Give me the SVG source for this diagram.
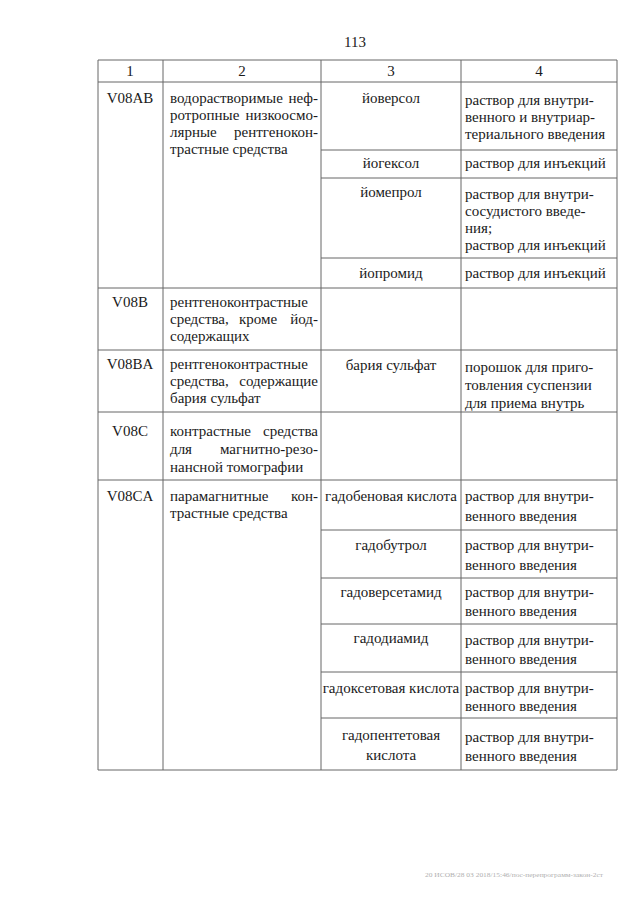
<svg xmlns="http://www.w3.org/2000/svg" width="640" height="905" viewBox="0 0 640 905">
<style>
text{font-family:"Liberation Serif","DejaVu Serif Condensed","DejaVu Serif",serif;font-size:15px;fill:#1a1a1a}
.c{text-anchor:middle}
.e{text-anchor:end}
.g line{stroke:#666;stroke-width:1}
.f{font-size:7px;fill:#b0b0b0}
</style>
<rect width="640" height="905" fill="#fff"/>
<text class="c" x="355" y="47">113</text>
<g id="grid" class="g">
<line x1="98" y1="60" x2="617" y2="60"/>
<line x1="98" y1="82" x2="617" y2="82"/>
<line x1="321" y1="150" x2="617" y2="150"/>
<line x1="321" y1="178" x2="617" y2="178"/>
<line x1="321" y1="258" x2="617" y2="258"/>
<line x1="98" y1="288" x2="617" y2="288"/>
<line x1="98" y1="350" x2="617" y2="350"/>
<line x1="98" y1="412" x2="617" y2="412"/>
<line x1="98" y1="480" x2="617" y2="480"/>
<line x1="321" y1="530" x2="617" y2="530"/>
<line x1="321" y1="578" x2="617" y2="578"/>
<line x1="321" y1="624" x2="617" y2="624"/>
<line x1="321" y1="672" x2="617" y2="672"/>
<line x1="321" y1="718" x2="617" y2="718"/>
<line x1="98" y1="770" x2="617" y2="770"/>
<line x1="98" y1="60" x2="98" y2="770"/>
<line x1="163" y1="60" x2="163" y2="770"/>
<line x1="321" y1="60" x2="321" y2="770"/>
<line x1="461" y1="60" x2="461" y2="770"/>
<line x1="617" y1="60" x2="617" y2="770"/>
</g>
<g id="header">
<text class="c" x="130" y="76">1</text>
<text class="c" x="242" y="76">2</text>
<text class="c" x="391" y="76">3</text>
<text class="c" x="539" y="76">4</text>
</g>
<g id="row-V08AB">
<text class="c" x="130" y="103">V08AB</text>
<text x="170" y="103">водорастворимые</text><text class="e" x="318" y="103">неф-</text>
<text x="170" y="120">ротропные</text><text class="e" x="318" y="120">низкоосмо-</text>
<text x="170" y="137">лярные</text><text class="e" x="318" y="137">рентгенокон-</text>
<text x="170" y="154">трастные средства</text>
<text class="c" x="391" y="103">йоверсол</text>
<text x="465" y="105">раствор для внутри-</text>
<text x="465" y="122">венного и внутриар-</text>
<text x="465" y="139">териального введения</text>
<text class="c" x="391" y="168">йогексол</text>
<text x="465" y="168">раствор для инъекций</text>
<text class="c" x="391" y="197">йомепрол</text>
<text x="465" y="199">раствор для внутри-</text>
<text x="465" y="216">сосудистого введе-</text>
<text x="465" y="233">ния;</text>
<text x="465" y="250">раствор для инъекций</text>
<text class="c" x="391" y="278">йопромид</text>
<text x="465" y="278">раствор для инъекций</text>
</g>
<g id="row-V08B">
<text class="c" x="130" y="307">V08B</text>
<text x="170" y="307">рентгеноконтрастные</text>
<text x="170" y="324">средства,</text><text class="c" x="258" y="324">кроме</text><text class="e" x="318" y="324">йод-</text>
<text x="170" y="341">содержащих</text>
</g>
<g id="row-V08BA">
<text class="c" x="130" y="369">V08BA</text>
<text x="170" y="369">рентгеноконтрастные</text>
<text x="170" y="386">средства,</text><text class="e" x="318" y="386">содержащие</text>
<text x="170" y="403">бария сульфат</text>
<text class="c" x="391" y="370">бария сульфат</text>
<text x="465" y="372">порошок для приго-</text>
<text x="465" y="390">товления суспензии</text>
<text x="465" y="408">для приема внутрь</text>
</g>
<g id="row-V08C">
<text class="c" x="130" y="436">V08C</text>
<text x="170" y="436">контрастные</text><text class="e" x="318" y="436">средства</text>
<text x="170" y="454">для</text><text class="e" x="318" y="454">магнитно-резо-</text>
<text x="170" y="472">нансной томографии</text>
</g>
<g id="row-V08CA">
<text class="c" x="130" y="501">V08CA</text>
<text x="170" y="501">парамагнитные</text><text class="e" x="318" y="501">кон-</text>
<text x="170" y="518">трастные средства</text>
<text class="c" x="391" y="501">гадобеновая кислота</text>
<text x="465" y="501">раствор для внутри-</text>
<text x="465" y="521">венного введения</text>
<text class="c" x="391" y="550">гадобутрол</text>
<text x="465" y="550">раствор для внутри-</text>
<text x="465" y="570">венного введения</text>
<text class="c" x="391" y="597">гадоверсетамид</text>
<text x="465" y="597">раствор для внутри-</text>
<text x="465" y="616">венного введения</text>
<text class="c" x="391" y="643">гадодиамид</text>
<text x="465" y="645">раствор для внутри-</text>
<text x="465" y="664">венного введения</text>
<text class="c" x="391" y="693">гадоксетовая кислота</text>
<text x="465" y="693">раствор для внутри-</text>
<text x="465" y="711">венного введения</text>
<text class="c" x="391" y="740">гадопентетовая</text>
<text class="c" x="391" y="760">кислота</text>
<text x="465" y="742">раствор для внутри-</text>
<text x="465" y="761">венного введения</text>
</g>
<text class="f" x="425" y="877" textLength="178" lengthAdjust="spacingAndGlyphs">20 ИСОВ/28 03 2018/15:46/пос-перепрограмм-закон-2ст</text>
</svg>
